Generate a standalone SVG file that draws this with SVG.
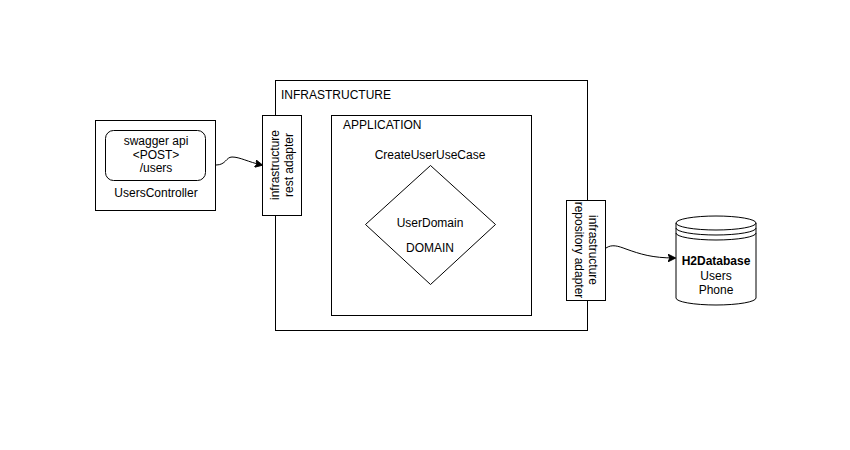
<svg xmlns="http://www.w3.org/2000/svg" width="850" height="450" viewBox="0 0 850 450">
  <style>
    .box { fill: #ffffff; stroke: #000000; stroke-width: 1; }
    .t { font-family: "Liberation Sans", Arial, sans-serif; font-size: 12px; fill: #000000; }
    .c { text-anchor: middle; }
    .edge { fill: none; stroke: #000000; stroke-width: 1; }
  </style>
  <defs>
    <marker id="arrow" viewBox="0 0 10 10" refX="9" refY="5" markerWidth="8" markerHeight="8" markerUnits="userSpaceOnUse" orient="auto">
      <path d="M0,0 L10,5 L0,10 L2.5,5 Z" fill="#000000" stroke="#000000"/>
    </marker>
  </defs>
  <rect width="850" height="450" fill="#ffffff"/>

  <g id="infrastructure">
    <rect class="box" x="275.5" y="80.5" width="312" height="250"/>
    <text class="t" x="281" y="99">INFRASTRUCTURE</text>
  </g>

  <g id="application">
    <rect class="box" x="331.5" y="115.5" width="200" height="200"/>
    <text class="t" x="343" y="129">APPLICATION</text>
  </g>

  <g id="domain">
    <path class="box" d="M430.5,165.5 L495.5,224.5 L430.5,284.5 L365.5,224.5 Z"/>
    <text class="t c" x="430" y="159">CreateUserUseCase</text>
    <text class="t c" x="430" y="227">UserDomain</text>
    <text class="t c" x="430" y="252">DOMAIN</text>
  </g>

  <g id="users-controller">
    <rect class="box" x="95.5" y="120.5" width="120" height="90"/>
    <rect class="box" x="105.5" y="130.5" width="100" height="50" rx="8" ry="8"/>
    <text class="t c" x="156" y="145">swagger api</text>
    <text class="t c" x="156" y="159">&lt;POST&gt;</text>
    <text class="t c" x="156" y="172">/users</text>
    <text class="t c" x="156" y="197">UsersController</text>
  </g>

  <g id="rest-adapter">
    <rect class="box" x="262.5" y="115.5" width="39" height="100"/>
    <g transform="translate(282,165) rotate(-90)">
      <text class="t c" x="0" y="-3">infrastructure</text>
      <text class="t c" x="0" y="11">rest adapter</text>
    </g>
  </g>

  <g id="repository-adapter">
    <rect class="box" x="566.5" y="200.5" width="39" height="100"/>
    <g transform="translate(586,250) rotate(90)">
      <text class="t c" x="0" y="-3">infrastructure</text>
      <text class="t c" x="0" y="11">repository adapter</text>
    </g>
  </g>

  <g id="h2database">
    <path class="box" d="M676,223 A40,7 0 0 1 756,223 L756,298 A40,7 0 0 1 676,298 Z"/>
    <path class="edge" d="M676,223 A40,7 0 0 0 756,223"/>
    <path class="edge" d="M676,228 A40,7 0 0 0 756,228"/>
    <path class="edge" d="M676,233 A40,7 0 0 0 756,233"/>
    <text class="t c" x="716" y="265" font-weight="bold">H2Database</text>
    <text class="t c" x="716" y="280">Users</text>
    <text class="t c" x="716" y="294">Phone</text>
  </g>

  <g id="connectors">
    <path class="edge" marker-end="url(#arrow)" d="M216,165 C226,165 226,157 232,157 C240,157 248,162 262,165"/>
    <path class="edge" marker-end="url(#arrow)" d="M606,248 C612,244 618,246 626,249 C640,254 652,258 675,258"/>
  </g>
</svg>
